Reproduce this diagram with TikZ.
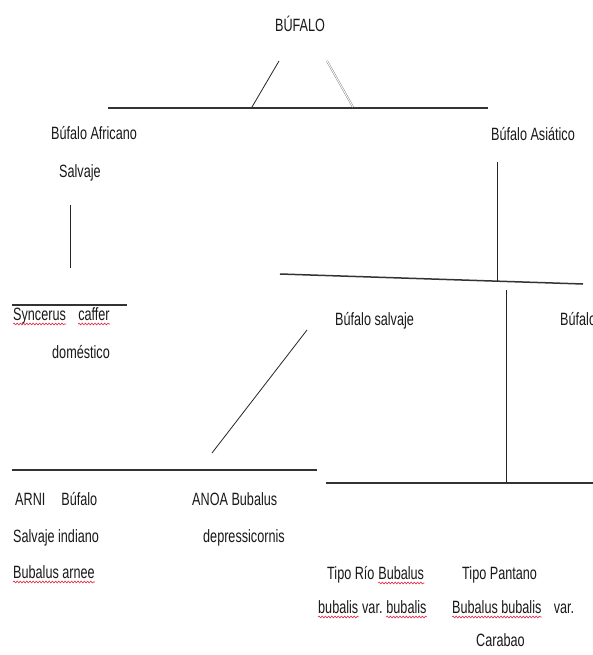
\documentclass[tikz,border=0pt]{standalone}
\usepackage{fontspec}
\setmainfont{Liberation Sans}[FakeStretch=0.71]
\usepackage{xcolor}
\usetikzlibrary{positioning,calc,decorations.pathmorphing}
\definecolor{spellred}{RGB}{225,40,70}

\begin{document}
\begin{tikzpicture}[
  x=1pt,y=-1pt,
  txt/.style={inner sep=0pt,anchor=base west,text=black!90,
              font=\fontsize{17.8}{20}\selectfont},
  bar/.style={line width=1.5pt,black!80},
  stem/.style={line width=0.8pt,black!85},
  twin/.style={double=white,double distance=0.9pt,line width=0.45pt,gray},
  wave/.style={spellred,line width=0.6pt,
               decorate,decoration={snake,segment length=3.2pt,amplitude=0.9pt}},
]
\useasboundingbox[fill=white] (0,0) rectangle (593,655);
% Root
\node[txt,anchor=base] (root) at (300,32) {BÚFALO};
\coordinate (topL) at (108,108);
\coordinate (topR) at (488,108);
\coordinate (slL) at (252,107);
\coordinate (slLt) at (279,61);
\coordinate (slR) at (353,107);
\coordinate (slRt) at (327,61);
\draw[bar] (topL) -- (topR);
\draw[stem] (slL) -- (slLt);
\draw[twin] (slRt) -- (slR);
% African branch
\node[txt] (afr) at (51,140) {Búfalo Africano};
\node[txt] (afrs) at (59,178) {Salvaje};
\coordinate (afrA) at (70,205);
\coordinate (afrB) at (70,268);
\draw[stem] (afrA) -- (afrB);
\coordinate (syncL) at (12,305);
\coordinate (syncR) at (127,305);
\draw[bar] (syncL) -- (syncR);
\node[txt] (sync) at (13,320) {Syncerus};
\node[txt] (caff) at ([xshift=12pt]sync.base east) {caffer};
\node[txt] (dom) at (52,358) {doméstico};
% Asian branch
\node[txt] (asia) at (491,141) {Búfalo Asiático};
\coordinate (asiaA) at (497,162);
\coordinate (asiaB) at (497,281);
\draw[stem] (asiaA) -- (asiaB);
\coordinate (midL) at (280,274);
\coordinate (midR) at (583,284);
\draw[bar] (midL) -- (midR);
\node[txt] (salv) at (335,325) {Búfalo salvaje};
\node[txt] (dome) at (560,325) {Búfalo};
% wild buffalo
\coordinate (diagA) at (307,330);
\coordinate (diagB) at (212,453);
\draw[stem] (diagA) -- (diagB);
\coordinate (lowL) at (12,470);
\coordinate (lowR) at (317,470);
\draw[bar] (lowL) -- (lowR);
\node[txt] (arni) at (15,505) {ARNI\hspace{16pt}Búfalo};
\node[txt] (arni2) at (13,542) {Salvaje indiano};
\node[txt] (arni3) at (13,578) {Bubalus arnee};
\node[txt] (anoa) at (192,505) {ANOA Bubalus};
\node[txt] (anoa2) at (203,542) {depressicornis};
% domestic buffalo
\coordinate (domA) at (506,290);
\coordinate (domB) at (506,483);
\draw[stem] (domA) -- (domB);
\coordinate (low2L) at (326,483);
\coordinate (low2R) at (593,483);
\draw[bar] (low2L) -- (low2R);
\node[txt] (rio) at (327,579) {Tipo Río};
\node[txt] (rioB) at ([xshift=3.5pt]rio.base east) {Bubalus};
\node[txt] (rio2) at (318,613) {bubalis};
\node[txt] (rioV) at ([xshift=3.5pt]rio2.base east) {var.};
\node[txt] (rio3) at ([xshift=3.5pt]rioV.base east) {bubalis};
\node[txt] (pant) at (462,579) {Tipo Pantano};
\node[txt] (pant2) at (452,613) {Bubalus bubalis};
\node[txt] (pantV) at ([xshift=12pt]pant2.base east) {var.};
\node[txt] (cara) at (476,646) {Carabao};
% spelling marks
\foreach \w in {sync,caff,arni3,rioB,rio2,rio3,pant2}
  \draw[wave] ($(\w.base west)+(0,4)$) -- ($(\w.base east)+(0,4)$);
\end{tikzpicture}
\end{document}
